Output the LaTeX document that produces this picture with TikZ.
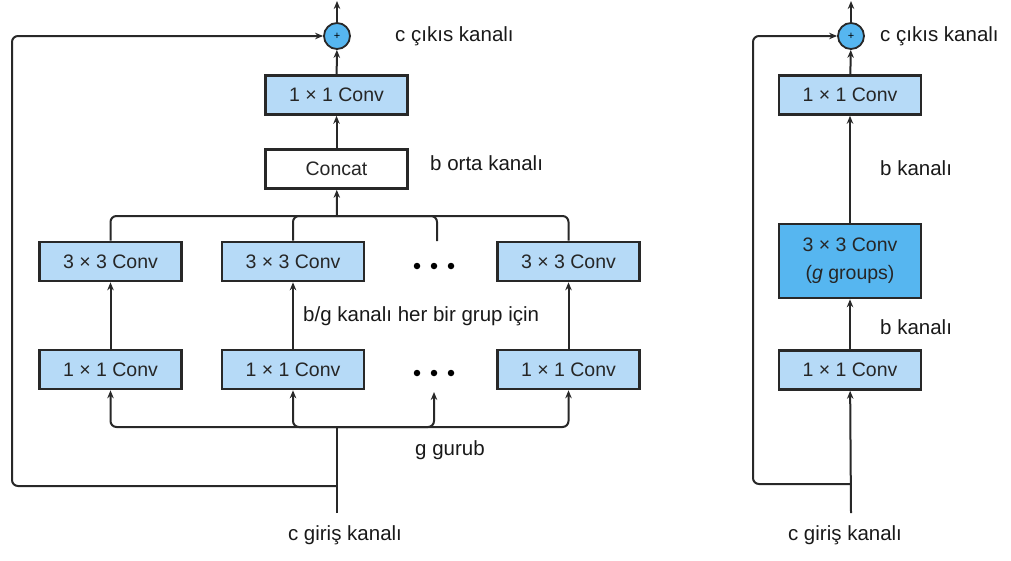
\documentclass[tikz,border=0pt]{standalone}
\usepackage{fontspec}
\setmainfont{Liberation Sans}
\usetikzlibrary{arrows.meta}
\definecolor{lblue}{RGB}{182,218,247}
\definecolor{dblue}{RGB}{86,182,240}
\definecolor{linec}{RGB}{40,40,40}
\tikzset{
  convbox/.style={draw=linec, line width=2.6pt, fill=lblue, minimum width=142pt, minimum height=39pt, inner sep=0pt, font=\fontsize{19.5}{21}\selectfont, text=black!85},
  conn/.style={draw=linec, line width=2pt, rounded corners=6pt},
  arr/.style={conn, -{Stealth[length=8pt,width=6.5pt]}},
  lbl/.style={font=\fontsize{20.5}{23}\selectfont, text=black!90, inner sep=0pt},
  plusnode/.style={circle, draw=linec, line width=1.8pt, fill=dblue, minimum size=26pt, inner sep=0pt, font=\fontsize{11}{12}\selectfont},
  dot/.style={circle, fill=black, minimum size=6.5pt, inner sep=0pt}
}
\begin{document}
\begin{tikzpicture}[x=1pt,y=-1pt]
\useasboundingbox (0,0) rectangle (1011,560);
% ---------- left diagram ----------
\node[plusnode] (plusL) at (337,36) {+};
\coordinate (topL) at (337,1);
\node[convbox] (cTop) at (336.5,95) {1 × 1 Conv};
\node[convbox, fill=white] (concat) at (336.5,169) {Concat};
\node[convbox] (a3) at (110.5,261.5) {3 × 3 Conv};
\node[convbox] (b3) at (293,261.5) {3 × 3 Conv};
\node[convbox] (d3) at (568.5,261.5) {3 × 3 Conv};
\node[convbox] (a1) at (110.5,369.5) {1 × 1 Conv};
\node[convbox] (b1) at (293,369.5) {1 × 1 Conv};
\node[convbox] (d1) at (568.5,369.5) {1 × 1 Conv};
\node[dot] (t1) at (417,266) {};
\node[dot] (t2) at (434,266) {};
\node[dot] (t3) at (451,266) {};
\node[dot] (u1) at (417,373) {};
\node[dot] (u2) at (434,373) {};
\node[dot] (u3) at (451,373) {};
\coordinate (cdots3) at (437,241);
\coordinate (cdots1) at (434,392);
\coordinate (busTop) at (337,216);
\coordinate (busBot) at (337,427);
\coordinate (inL) at (337,513);
\coordinate (skipL) at (337,486);
\coordinate (cornerL) at (12,36);

\draw[arr] (plusL) -- (topL);
\draw[arr] (cTop) -- (plusL);
\draw[arr] (concat) -- (cTop);
\draw[conn] (a3.north) |- (busTop);
\draw[conn] (b3.north) |- (busTop);
\draw[conn] (cdots3) |- (busTop);
\draw[conn] (d3.north) |- (busTop);
\draw[arr] (busTop) -- (concat);
\draw[arr] (a1) -- (a3);
\draw[arr] (b1) -- (b3);
\draw[arr] (d1) -- (d3);
\draw[conn] (inL) -- (busBot);
\draw[arr] (busBot) -| (a1.south);
\draw[arr] (busBot) -| (b1.south);
\draw[arr] (busBot) -| (cdots1);
\draw[arr] (busBot) -| (d1.south);
\draw[arr] (skipL) -| (cornerL) -- (plusL);

\node[lbl, anchor=west] (outL) at (395,36) {c çıkıs kanalı};
\node[lbl, anchor=west] (midL) at (430,163) {b orta kanalı};
\node[lbl, anchor=west] (grpL) at (303,316) {b/g kanalı her bir grup için};
\node[lbl, anchor=west] (gL) at (415,450) {g gurub};
\node[lbl] (inLabL) at (345,535) {c giriş kanalı};

% ---------- right diagram ----------
\node[plusnode] (plusR) at (851,36) {+};
\coordinate (topR) at (851,1);
\node[convbox, fill=lblue] (rTop) at (850,95) {1 × 1 Conv};
\node[convbox, fill=dblue, minimum height=74pt, align=center, font=\fontsize{19.5}{28}\selectfont] (rG) at (850,261) {3 × 3 Conv\\(\textit{g} groups)};
\node[convbox] (rB) at (850,370) {1 × 1 Conv};
\coordinate (inR) at (851,513);
\coordinate (skipR) at (851,484);
\coordinate (cornerR) at (753,36);

\draw[arr] (plusR) -- (topR);
\draw[arr] (rTop) -- (plusR);
\draw[arr] (rG) -- (rTop);
\draw[arr] (rB) -- (rG);
\draw[arr] (inR) -- (rB);
\draw[arr] (skipR) -| (cornerR) -- (plusR);

\node[lbl, anchor=west] (outR) at (880,36) {c çıkıs kanalı};
\node[lbl, anchor=west] (bR1) at (880,168) {b kanalı};
\node[lbl, anchor=west] (bR2) at (880,327) {b kanalı};
\node[lbl] (inLabR) at (845,535) {c giriş kanalı};
\end{tikzpicture}
\end{document}
